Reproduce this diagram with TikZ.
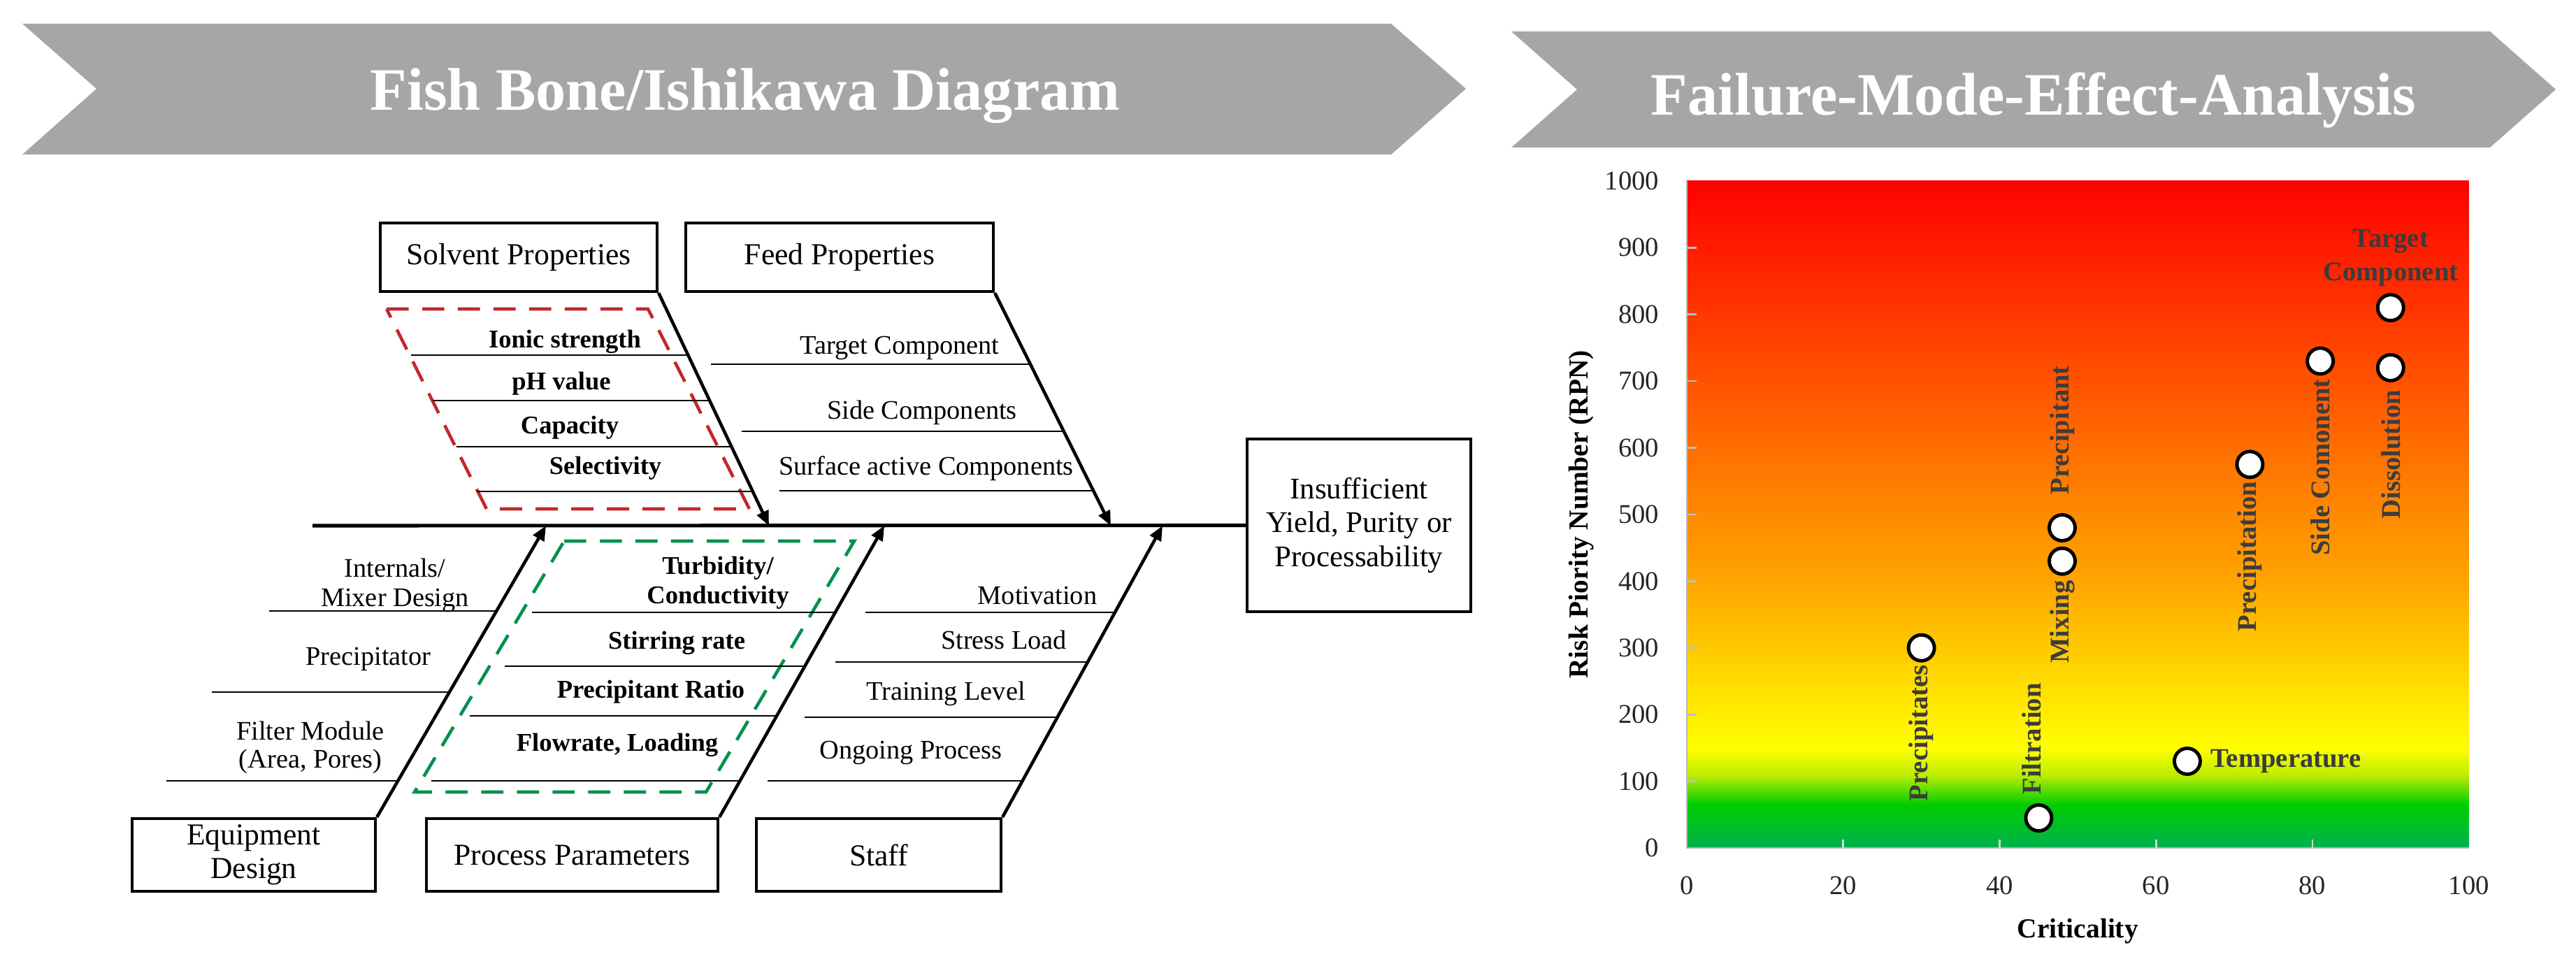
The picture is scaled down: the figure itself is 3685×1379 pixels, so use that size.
\documentclass[tikz,border=0pt]{standalone}
\usepackage{fontspec}
\setmainfont{Liberation Serif}
\usetikzlibrary{arrows.meta}

\definecolor{bannergray}{RGB}{166,166,166}
\definecolor{solvred}{RGB}{192,40,45}
\definecolor{procgreen}{RGB}{0,145,75}
\definecolor{lblgray}{RGB}{60,60,60}
\definecolor{rpngreen}{RGB}{0,176,80}
\definecolor{rpnbright}{RGB}{0,205,0}
\definecolor{rpnlime}{RGB}{190,238,0}
\definecolor{rpnyellow}{RGB}{255,255,0}
\definecolor{rpnorange}{RGB}{255,165,0}
\definecolor{rpnred}{RGB}{255,0,0}

\pgfdeclareverticalshading{rpnshade}{100bp}{%
  color(0bp)=(rpngreen); color(25bp)=(rpngreen); color(28.25bp)=(rpnbright);
  color(30.5bp)=(rpnlime); color(32.5bp)=(rpnyellow); color(45bp)=(rpnorange);
  color(75bp)=(rpnred); color(100bp)=(rpnred)}

\begin{document}
\begin{tikzpicture}[
    x=0.01cm, y=-0.01cm,
    box/.style={
        rectangle, draw=black, line width=1.15pt, inner sep=0pt,
        align=center, font=\fontsize{12.4}{13.7}\selectfont
    },
    sublbl/.style={inner sep=0pt, align=center, font=\fontsize{10.9}{12}\selectfont},
    boldlbl/.style={inner sep=0pt, align=center, font=\fontsize{10.4}{12}\selectfont\bfseries},
    sub/.style={line width=0.7pt},
    bone/.style={line width=1.3pt, -{Triangle[length=6pt,width=5pt]}},
    spine/.style={line width=1.45pt},
    dashbox/.style={line width=1.3pt, dash pattern=on 9pt off 5.5pt},
    ttl/.style={text=white, inner sep=0pt, font=\fontsize{24.5}{28}\selectfont\bfseries},
    ticklbl/.style={inner sep=0pt, text=black!85, font=\fontsize{11}{13}\selectfont},
    axttl/.style={inner sep=0pt, font=\fontsize{11.2}{13}\selectfont\bfseries},
    datapt/.style={
        circle, draw=black, fill=white, line width=1.4pt,
        minimum size=0.37cm, inner sep=0pt
    },
    ptlbl/.style={inner sep=0pt, text=lblgray, align=center, font=\fontsize{11}{13.7}\selectfont\bfseries}
]
\useasboundingbox (0,0) rectangle (3685,1379);

% --- Banners ---
\fill[bannergray] (32,34) -- (1990,34) -- (2097,127) -- (1990,221) -- (32,221) -- (138,127) -- cycle;
\node[ttl, anchor=base] (fbtitle) at (1066,158) {Fish Bone/Ishikawa Diagram};
\fill[bannergray] (2162,45) -- (3562,45) -- (3656,128) -- (3562,211) -- (2162,211) -- (2256,128) -- cycle;
\node[ttl, anchor=base] (fmtitle) at (2909,165) {Failure-Mode-Effect-Analysis};

% --- Highlighted groups ---
\draw[dashbox, solvred] (553,442) -- (927,442) -- (1072,728) -- (696,728) -- cycle;
\draw[dashbox, procgreen] (807,774) -- (1222,774) -- (1010,1133) -- (593,1133) -- cycle;

% --- Cause boxes and effect ---
\node[box, minimum width=3.96cm, minimum height=0.98cm] (solv) at (742,368) {Solvent Properties};
\node[box, minimum width=4.40cm, minimum height=0.98cm] (feed) at (1201,368) {Feed Properties};
\node[box, minimum width=3.48cm, minimum height=1.04cm] (equip) at (363,1223) {Equipment\\Design};
\node[box, minimum width=4.17cm, minimum height=1.04cm] (proc) at (818.5,1223) {Process Parameters};
\node[box, minimum width=3.50cm, minimum height=1.04cm] (staff) at (1257,1223) {Staff};
\node[box, minimum width=3.20cm, minimum height=2.47cm, font=\fontsize{12.2}{13.66}\selectfont]
    (effect) at (1944,751.5) {Insufficient\\Yield, Purity or\\Processability};

% --- Spine and bones ---
\coordinate (tail) at (447,752);
\coordinate (hsolv) at (1100,752);
\coordinate (hfeed) at (1589,752);
\coordinate (hequip) at (781,752);
\coordinate (hproc) at (1265,752);
\coordinate (hstaff) at (1663,752);
\draw[spine] (tail) -- (effect.west);
\draw[bone] (solv.south east) -- (hsolv);
\draw[bone] (feed.south east) -- (hfeed);
\draw[bone] (equip.north east) -- (hequip);
\draw[bone] (proc.north east) -- (hproc);
\draw[bone] (staff.north east) -- (hstaff);

% --- Solvent properties ---
\draw[sub] (588,508) -- (984,508);
\draw[sub] (619,573) -- (1015,573);
\draw[sub] (653,639) -- (1046,639);
\draw[sub] (682,703) -- (1077,703);
\node[boldlbl, anchor=base] (ionic) at (808,497) {Ionic strength};
\node[boldlbl, anchor=base] (ph) at (803,557) {pH value};
\node[boldlbl, anchor=base] (capa) at (815,620) {Capacity};
\node[boldlbl, anchor=base] (selec) at (866,678) {Selectivity};

% --- Feed properties ---
\draw[sub] (1017,521) -- (1474,521);
\draw[sub] (1061,617) -- (1522,617);
\draw[sub] (1115,702) -- (1564,702);
\node[sublbl, anchor=base] (target) at (1287,506) {Target Component};
\node[sublbl, anchor=base] (sidec) at (1319,599) {Side Components};
\node[sublbl, anchor=base] (surf) at (1325,679) {Surface active Components};

% --- Equipment design ---
\draw[sub] (385,874) -- (710,874);
\draw[sub] (303,990) -- (643,990);
\draw[sub] (238,1117) -- (569,1117);
\node[sublbl] (mixer) at (565,837) {Internals/\\Mixer Design};
\node[sublbl, anchor=base] (precip) at (527,951) {Precipitator};
\node[sublbl, font=\fontsize{10.9}{11.4}\selectfont] (filter) at (444,1069) {Filter Module\\(Area, Pores)};

% --- Process parameters ---
\draw[sub] (761,876) -- (1195,876);
\draw[sub] (722,953) -- (1151,953);
\draw[sub] (672,1024) -- (1111,1024);
\draw[sub] (617,1117) -- (1058,1117);
\node[boldlbl] (turb) at (1027,834) {Turbidity/\\Conductivity};
\node[boldlbl, anchor=base] (stir) at (968,928) {Stirring rate};
\node[boldlbl, anchor=base] (ratio) at (931,998) {Precipitant Ratio};
\node[boldlbl, anchor=base] (flow) at (883,1074) {Flowrate, Loading};

% --- Staff ---
\draw[sub] (1238,876) -- (1595,876);
\draw[sub] (1195,947) -- (1556,947);
\draw[sub] (1151,1026) -- (1513,1026);
\draw[sub] (1098,1117) -- (1463,1117);
\node[sublbl, anchor=base] (motiv) at (1484,864) {Motivation};
\node[sublbl, anchor=base] (stress) at (1436,928) {Stress Load};
\node[sublbl, anchor=base] (train) at (1353,1001) {Training Level};
\node[sublbl, anchor=base] (ongo) at (1303,1085) {Ongoing Process};

% --- FMEA chart ---
\begin{scope}[shift={(2413,1213)}, x=0.1118cm, y=0.00954cm]
\shade[shading=rpnshade] (0,0) rectangle (100,1000);
\draw[gray!55, line width=0.8pt] (0,1000) -- (0,0) -- (100,0);
\foreach \r in {100,200,...,900}
    \draw[gray!50, line width=0.8pt] (0,\r) -- ++(0.14cm,0);
\foreach \c in {20,40,60,80}
    \draw[white!70!gray, line width=0.8pt] (\c,0) -- ++(0,0.12cm);
\foreach \r in {0,100,...,1000}
    \node[ticklbl, anchor=east] at ([xshift=-0.39cm]0,\r) {\r};
\foreach \c in {0,20,...,100}
    \node[ticklbl] at ([yshift=-0.54cm]\c,0) {\c};
\node[axttl] (xttl) at ([yshift=-1.19cm]50,0) {Criticality};
\node[axttl, rotate=90] (yttl) at ([xshift=-1.51cm]0,500) {Risk Piority Number (RPN)};

% data points
\node[datapt] (precs) at (30,300) {};
\node[datapt] (filt) at (45,45) {};
\node[datapt] (temp) at (64,130) {};
\node[datapt] (mixa) at (48,430) {};
\node[datapt] (mixb) at (48,480) {};
\node[datapt] (precn) at (72,575) {};
\node[datapt] (side) at (81,730) {};
\node[datapt] (diss) at (90,720) {};
\node[datapt] (targ) at (90,810) {};

% point labels
\node[ptlbl, rotate=90, anchor=east] at ([yshift=-0.03cm]precs.south) {Precipitates};
\node[ptlbl, rotate=90, anchor=west] at ([xshift=-0.1cm, yshift=0.12cm]filt.north) {Filtration};
\node[ptlbl, anchor=west] at ([xshift=0.12cm]temp.east) {Temperature};
\node[ptlbl, rotate=90, anchor=east] at ([yshift=-0.06cm]mixa.south) {Mixing};
\node[ptlbl, rotate=90, anchor=west] at ([yshift=0.26cm]mixb.north) {Precipitant};
\node[ptlbl, rotate=90, anchor=east] at ([yshift=-0.03cm]precn.south) {Precipitation};
\node[ptlbl, rotate=90, anchor=east] at ([yshift=-0.04cm]side.south) {Side Comonent};
\node[ptlbl, rotate=90, anchor=east] at ([yshift=-0.1cm]diss.south) {Dissolution};
\node[ptlbl, anchor=south] at ([yshift=0.09cm]targ.north) {Target\\Component};
\end{scope}

\end{tikzpicture}
\end{document}
